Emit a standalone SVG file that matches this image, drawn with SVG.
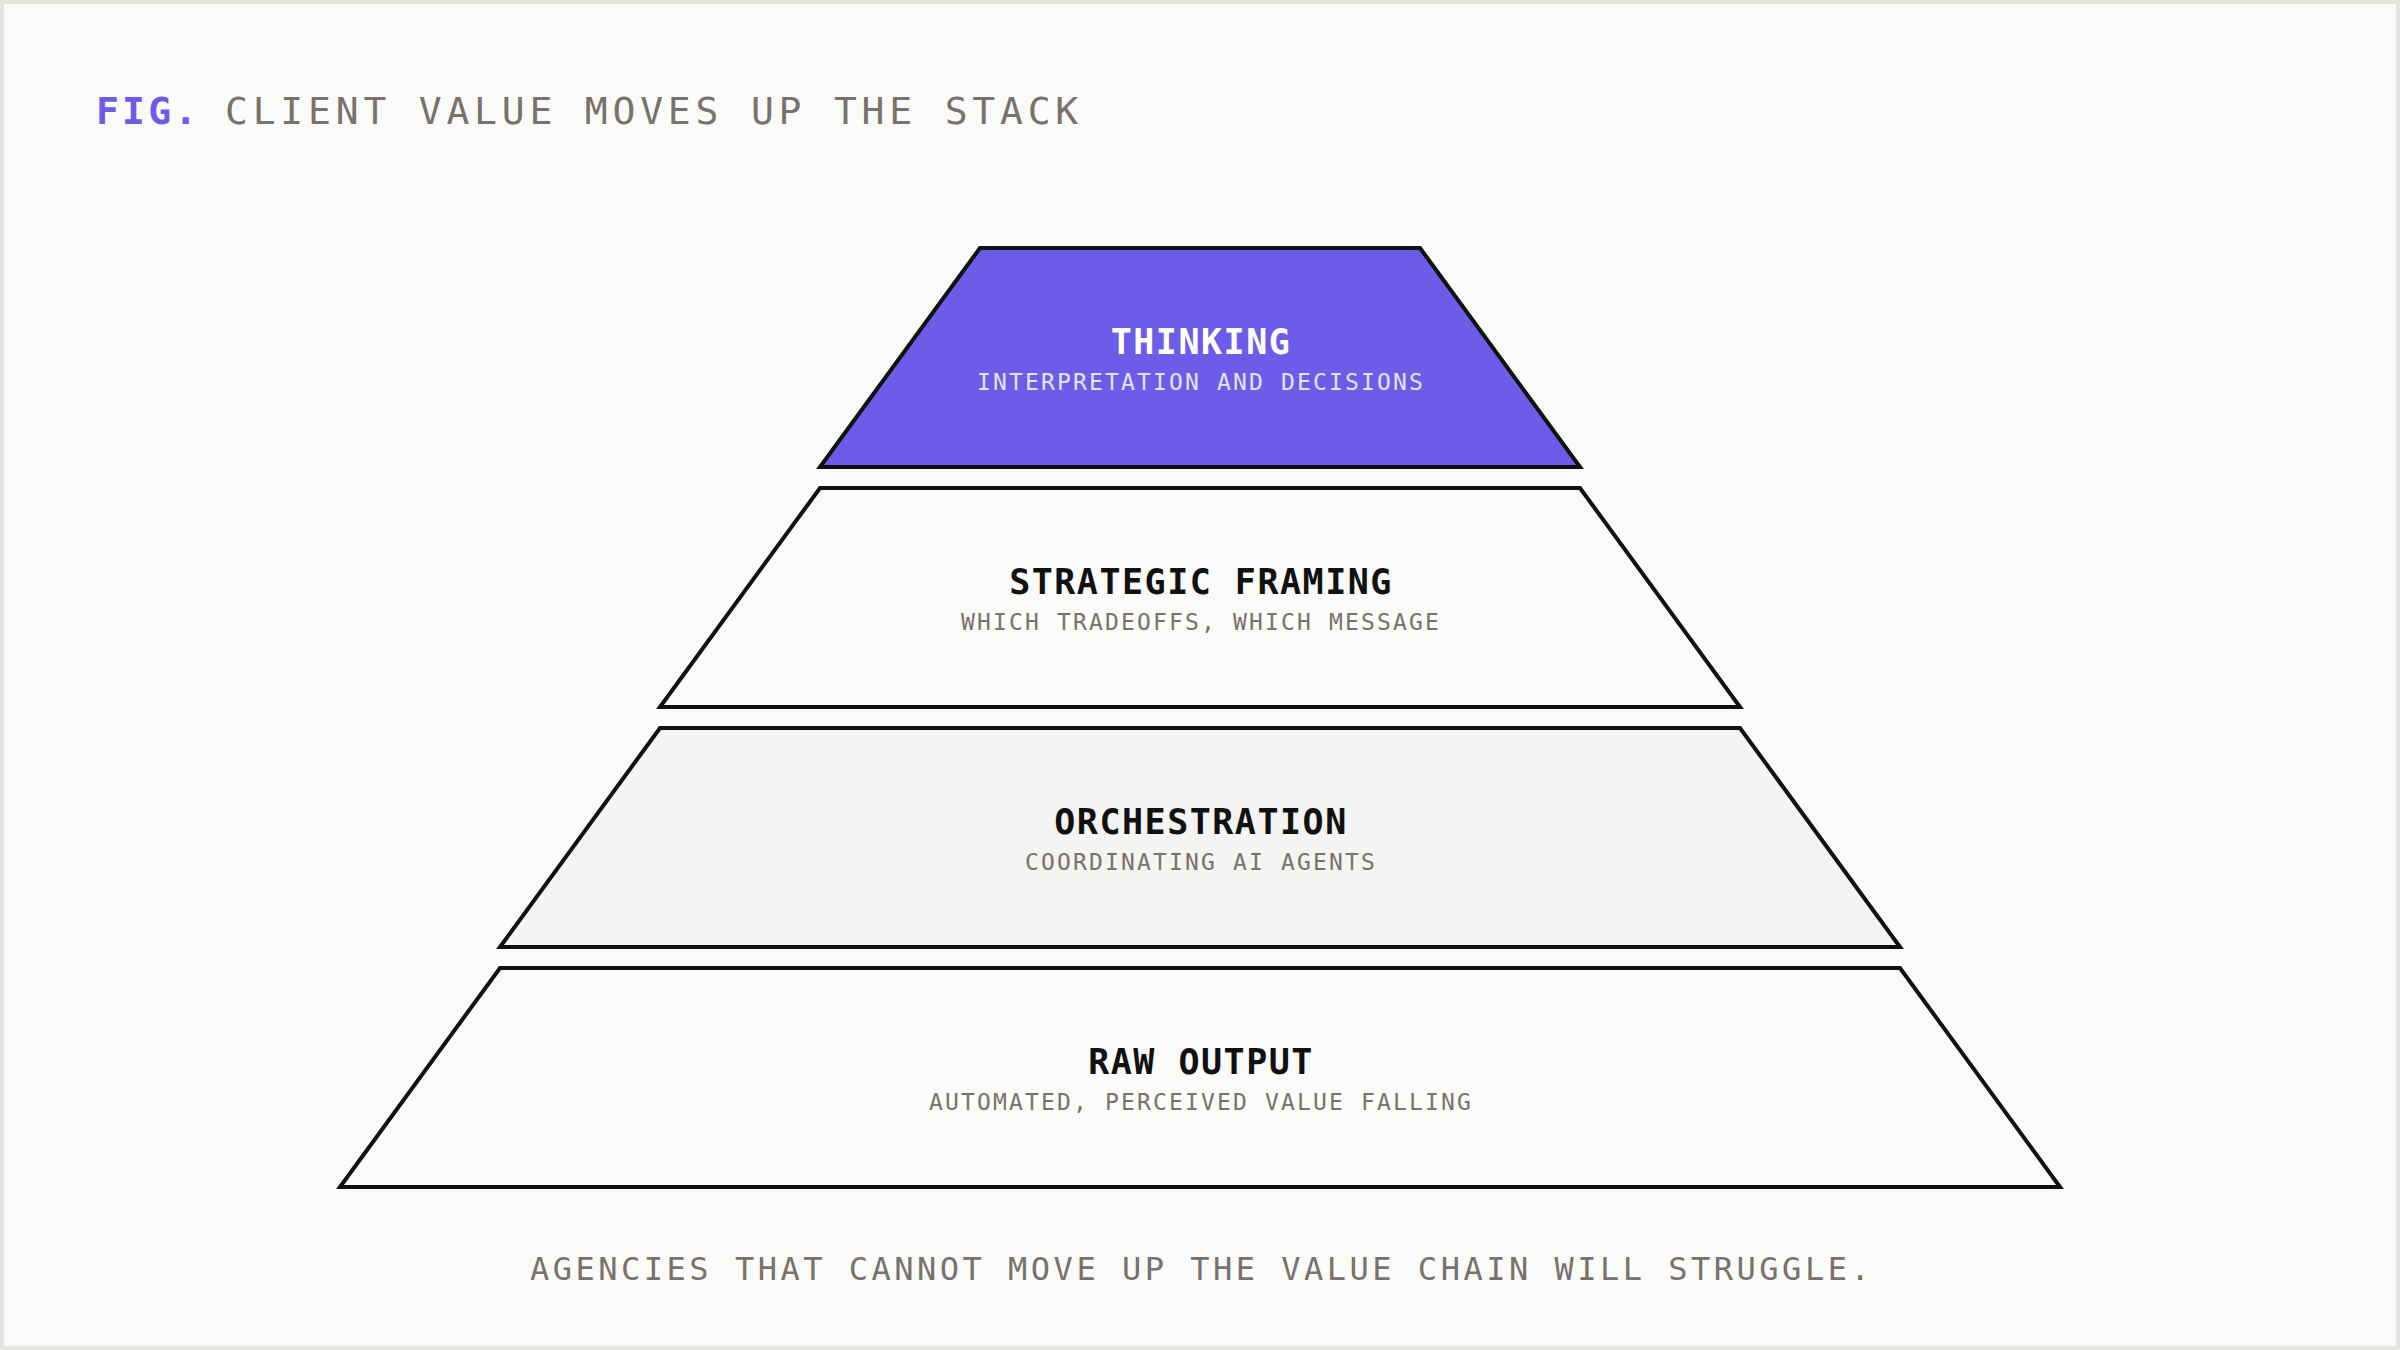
<svg xmlns="http://www.w3.org/2000/svg" width="2400" height="1350" viewBox="0 0 2400 1350">
  <style>
    .layer { stroke: #111111; stroke-width: 4; stroke-linejoin: miter; }
    .ttl { font-family: "DejaVu Sans Mono", "Liberation Mono", monospace; font-weight: bold; font-size: 35px; letter-spacing: 1.5px; text-anchor: middle; fill: #111111; }
    .sub { font-family: "DejaVu Sans Mono", "Liberation Mono", monospace; font-size: 23px; letter-spacing: 2.15px; text-anchor: middle; fill: #78716C; }
    .head { font-family: "DejaVu Sans Mono", "Liberation Mono", monospace; font-size: 38px; letter-spacing: 4.8px; fill: #78716C; }
    .foot { font-family: "DejaVu Sans Mono", "Liberation Mono", monospace; font-size: 32px; letter-spacing: 3.5px; fill: #78716C; }
  </style>
  <rect x="2" y="2" width="2396" height="1346" fill="#FAFAF8" stroke="#E5E4E1" stroke-width="4"/>
  <g id="title">
    <text x="96" y="124" class="head" style="font-weight:bold;fill:#6C5CE7;letter-spacing:3.2px">FIG.</text>
    <text x="225" y="124" class="head">CLIENT VALUE MOVES UP THE STACK</text>
  </g>
  <g id="connectors"></g>
  <g id="layer-thinking">
    <polygon class="layer" points="980,248 1420,248 1580,467 820,467" fill="#6C5CE7"/>
    <text x="1201" y="354" class="ttl" style="fill:#FFFFFF">THINKING</text>
    <text x="1201" y="390" class="sub" style="fill:#E6E2FA">INTERPRETATION AND DECISIONS</text>
  </g>
  <g id="layer-strategic">
    <polygon class="layer" points="820,488 1580,488 1740,707 660,707" fill="#FAFAF8"/>
    <text x="1201" y="594" class="ttl">STRATEGIC FRAMING</text>
    <text x="1201" y="630" class="sub">WHICH TRADEOFFS, WHICH MESSAGE</text>
  </g>
  <g id="layer-orchestration">
    <polygon class="layer" points="660,728 1740,728 1900,947 500,947" fill="#F4F4F2"/>
    <text x="1201" y="834" class="ttl">ORCHESTRATION</text>
    <text x="1201" y="870" class="sub">COORDINATING AI AGENTS</text>
  </g>
  <g id="layer-raw">
    <polygon class="layer" points="500,968 1900,968 2060,1187 340,1187" fill="#FAFAF8"/>
    <text x="1201" y="1074" class="ttl">RAW OUTPUT</text>
    <text x="1201" y="1110" class="sub">AUTOMATED, PERCEIVED VALUE FALLING</text>
  </g>
  <g id="footer">
    <text x="530" y="1280" class="foot">AGENCIES THAT CANNOT MOVE UP THE VALUE CHAIN WILL STRUGGLE.</text>
  </g>
</svg>
